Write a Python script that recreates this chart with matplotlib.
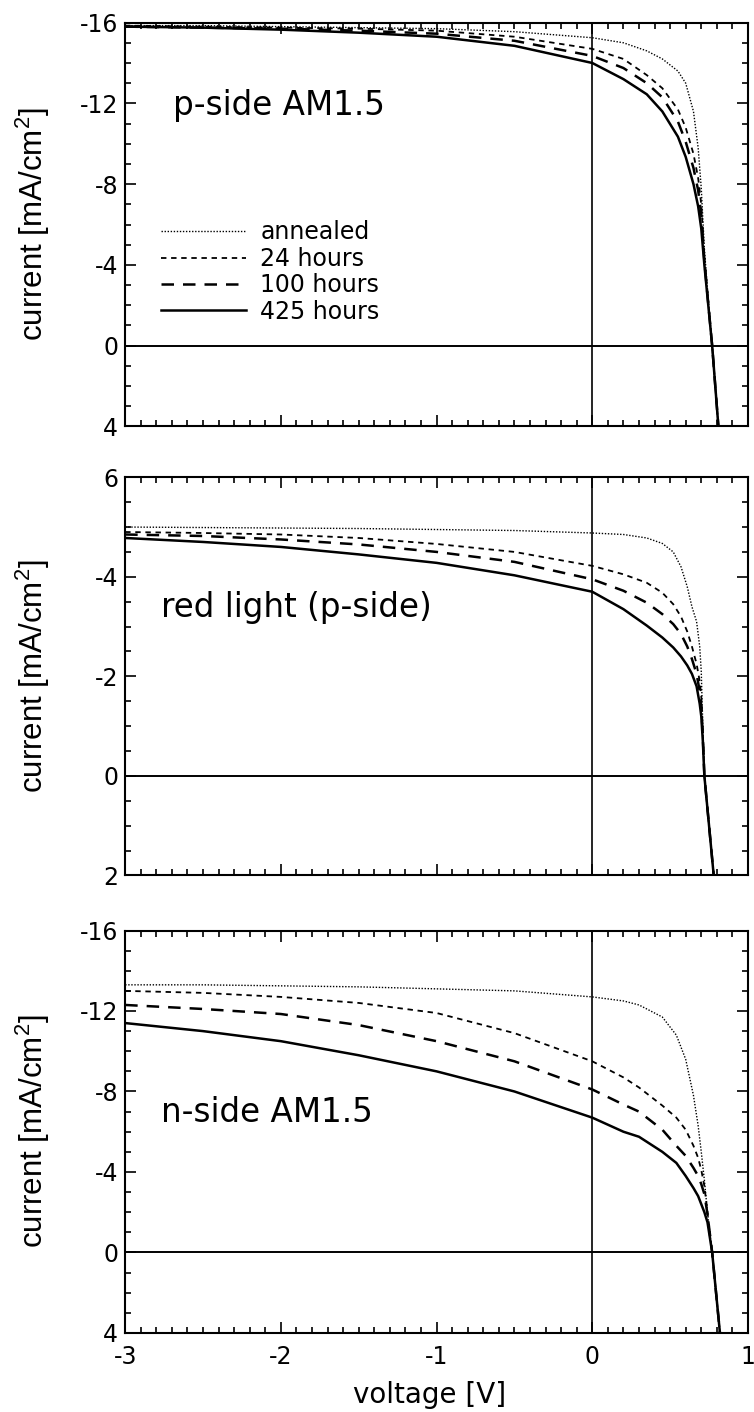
import numpy as np
import matplotlib.pyplot as plt
from matplotlib.ticker import MultipleLocator

plt.rcParams['font.family'] = ['DejaVu Sans']
plt.rcParams['axes.unicode_minus'] = False
plt.rcParams['mathtext.fontset'] = 'custom'
plt.rcParams['mathtext.rm'] = 'Liberation Sans'

labels = ['annealed', '24 hours', '100 hours', '425 hours']

# p-side AM1.5
v_top = [-3, -2.5, -2, -1.5, -1, -0.5, 0, 0.2, 0.35, 0.45, 0.55, 0.6, 0.65, 0.68, 0.7, 0.72, 0.74, 0.77, 0.81]
top_annealed = [-15.85, -15.85, -15.8, -15.75, -15.7, -15.55, -15.25, -15.0, -14.6, -14.2, -13.6, -13.0, -11.6, -9.8, -7.8, -4.8, -2.8, 0, 4]
top_24h = [-15.85, -15.8, -15.75, -15.7, -15.6, -15.3, -14.7, -14.2, -13.4, -12.75, -11.7, -10.8, -9.5, -8.3, -7.0, -4.4, -2.6, 0, 4]
top_100h = [-15.8, -15.75, -15.7, -15.6, -15.45, -15.1, -14.35, -13.75, -13.0, -12.3, -11.1, -10.1, -8.8, -7.7, -6.5, -4.2, -2.5, 0, 4]
top_425h = [-15.8, -15.75, -15.65, -15.5, -15.3, -14.85, -14.0, -13.2, -12.45, -11.6, -10.35, -9.35, -8.0, -6.9, -5.8, -4.0, -2.4, 0, 4]

# red light (p-side)
v_mid = [-3, -2.5, -2, -1.5, -1, -0.5, 0, 0.2, 0.35, 0.45, 0.52, 0.57, 0.61, 0.64, 0.67, 0.69, 0.7, 0.71, 0.72, 0.75, 0.78]
mid_annealed = [-5.0, -4.99, -4.98, -4.97, -4.95, -4.93, -4.88, -4.85, -4.78, -4.67, -4.5, -4.2, -3.8, -3.4, -3.1, -2.6, -2.1, -1.0, 0, 1.0, 2.0]
mid_24h = [-4.9, -4.88, -4.85, -4.78, -4.66, -4.5, -4.22, -4.05, -3.88, -3.68, -3.45, -3.2, -2.9, -2.6, -2.25, -1.9, -1.6, -0.9, 0, 1.0, 2.0]
mid_100h = [-4.85, -4.82, -4.75, -4.65, -4.5, -4.3, -3.95, -3.72, -3.48, -3.25, -3.05, -2.85, -2.6, -2.35, -2.05, -1.7, -1.4, -0.8, 0, 1.0, 2.0]
mid_425h = [-4.78, -4.7, -4.6, -4.45, -4.28, -4.03, -3.7, -3.35, -3.02, -2.78, -2.58, -2.4, -2.22, -2.05, -1.8, -1.45, -1.2, -0.7, 0, 1.0, 2.0]

# n-side AM1.5
v_bot = [-3, -2.5, -2, -1.5, -1, -0.5, 0, 0.2, 0.3, 0.45, 0.54, 0.6, 0.65, 0.68, 0.7, 0.72, 0.74, 0.77, 0.82]
bot_annealed = [-13.3, -13.3, -13.25, -13.2, -13.1, -13.0, -12.7, -12.5, -12.3, -11.7, -10.8, -9.6, -7.8, -6.3, -5.0, -3.6, -2.0, 0, 4]
bot_24h = [-13.0, -12.9, -12.7, -12.4, -11.9, -10.9, -9.5, -8.7, -8.2, -7.3, -6.7, -6.1, -5.3, -4.7, -4.1, -3.3, -2.0, 0, 4]
bot_100h = [-12.3, -12.1, -11.85, -11.3, -10.5, -9.5, -8.1, -7.35, -7.0, -6.1, -5.3, -4.8, -4.2, -3.8, -3.4, -2.9, -1.9, 0, 4]
bot_425h = [-11.4, -11.0, -10.5, -9.8, -9.0, -8.0, -6.7, -6.0, -5.75, -5.0, -4.45, -3.8, -3.2, -2.8, -2.4, -2.0, -1.5, 0, 4]

x_ticks = [-3, -2, -1, 0, 1]
x_ticklabels = ['-3', '-2', '-1', '0', '1']
big_ticks = [-16, -12, -8, -4, 0, 4]
big_ticklabels = ['-16', '-12', '-8', '-4', '0', '4']
mid_ticks = [-6, -4, -2, 0, 2]
mid_ticklabels = ['6', '-4', '-2', '0', '2']

styles = [dict(lw=1.0, dashes=(1.0, 1.2)),
          dict(lw=1.3, dashes=(3.0, 2.6)),
          dict(lw=1.8, dashes=(5.0, 3.6)),
          dict(lw=1.8, linestyle='-')]

panels = [
    dict(rect=[0.166, 0.698, 0.826, 0.286], v=v_top,
         data=[top_annealed, top_24h, top_100h, top_425h],
         ylim=(4, -16), ticks=big_ticks, ticklabels=big_ticklabels, minor=1,
         title='p-side AM1.5', tx=-2.69, ty=-11.4),
    dict(rect=[0.166, 0.380, 0.826, 0.282], v=v_mid,
         data=[mid_annealed, mid_24h, mid_100h, mid_425h],
         ylim=(2, -6), ticks=mid_ticks, ticklabels=mid_ticklabels, minor=0.5,
         title='red light (p-side)', tx=-2.77, ty=-3.2),
    dict(rect=[0.166, 0.056, 0.826, 0.285], v=v_bot,
         data=[bot_annealed, bot_24h, bot_100h, bot_425h],
         ylim=(4, -16), ticks=big_ticks, ticklabels=big_ticklabels, minor=1,
         title='n-side AM1.5', tx=-2.77, ty=-6.5),
]

fig = plt.figure(figsize=(7.54, 14.12), dpi=100)

for k, p in enumerate(panels):
    ax = fig.add_axes(p['rect'])
    for series, lab, st in zip(p['data'], labels, styles):
        ax.plot(p['v'], series, color='black', label=lab, **st)
    ax.axvline(0, color='black', lw=1.2)
    ax.axhline(0, color='black', lw=1.4)
    ax.set_xlim(-3, 1)
    ax.set_ylim(*p['ylim'])
    ax.set_yticks(p['ticks'])
    ax.set_yticklabels(p['ticklabels'])
    ax.yaxis.set_minor_locator(MultipleLocator(p['minor']))
    ax.set_xticks(x_ticks)
    ax.xaxis.set_minor_locator(MultipleLocator(0.1))
    if k == 2:
        ax.set_xticklabels(x_ticklabels)
        ax.set_xlabel('voltage [V]', fontsize=20)
        ax.xaxis.set_label_coords(0.488, -0.12)
    else:
        ax.set_xticklabels([])
    ax.tick_params(which='both', direction='in', top=True, right=True,
                   labelsize=17, width=1.2)
    ax.tick_params(axis='y', pad=5)
    ax.tick_params(axis='x', pad=9)
    ax.tick_params(which='major', length=8)
    ax.tick_params(which='minor', length=4.5)
    for s in ax.spines.values():
        s.set_linewidth(1.5)
    ax.set_ylabel('current [mA/cm$^2$]', fontsize=22.5,
                  family=['Liberation Sans', 'DejaVu Sans'])
    ax.yaxis.set_label_coords(-0.117, 0.5)
    ax.text(p['tx'], p['ty'], p['title'], fontsize=23.5, ha='left', va='baseline')
    if k == 0:
        ax.legend(loc='upper left', bbox_to_anchor=(0.058, 0.51), frameon=False,
                  fontsize=17, handlelength=3.6, handletextpad=0.6,
                  labelspacing=0.1, borderpad=0, borderaxespad=0)

fig.savefig('out.png', dpi=100, facecolor='white')
